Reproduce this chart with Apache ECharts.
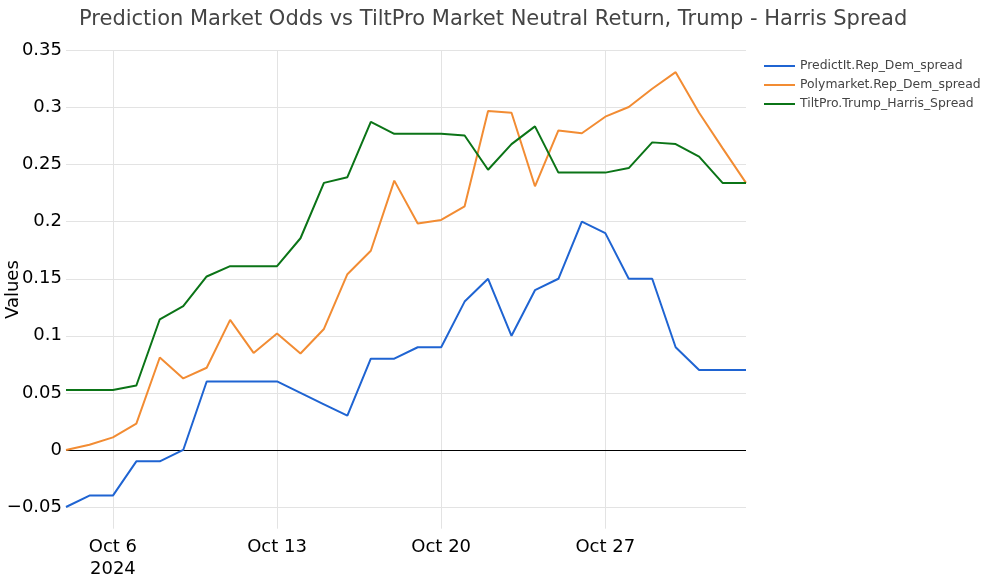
<!DOCTYPE html>
<html>
<head>
<meta charset="utf-8">
<style>
  html, body { margin: 0; padding: 0; background: #fff; }
  #chart { width: 985px; height: 579px; }
</style>
<script src="https://cdn.jsdelivr.net/npm/echarts@6/dist/echarts.min.js"></script>
</head>
<body>
<div id="chart"></div>
<script>
var dom = document.getElementById("chart");
var myChart = echarts.init(dom);

// dates Oct 4 .. Nov 2, 2024
var dates = [
    'Oct 4', 'Oct 5', 'Oct 6', 'Oct 7', 'Oct 8', 'Oct 9', 'Oct 10', 'Oct 11', 'Oct 12', 'Oct 13',
    'Oct 14', 'Oct 15', 'Oct 16', 'Oct 17', 'Oct 18', 'Oct 19', 'Oct 20', 'Oct 21', 'Oct 22', 'Oct 23',
    'Oct 24', 'Oct 25', 'Oct 26', 'Oct 27', 'Oct 28', 'Oct 29', 'Oct 30', 'Oct 31', 'Nov 1', 'Nov 2'
];
var tickDates = ['Oct 6', 'Oct 13', 'Oct 20', 'Oct 27'];

var predictIt = [
    -0.05, -0.04, -0.04, -0.01, -0.01, 0, 0.06, 0.06, 0.06, 0.06,
    0.05, 0.04, 0.03, 0.08, 0.08, 0.09, 0.09, 0.13, 0.15, 0.10,
    0.14, 0.15, 0.20, 0.19, 0.15, 0.15, 0.09, 0.07, 0.07, 0.07
];
var polymarket = [
    0, 0.0045, 0.011, 0.023, 0.081, 0.0627, 0.072, 0.114, 0.085, 0.102,
    0.0845, 0.106, 0.154, 0.1745, 0.236, 0.1985, 0.2015, 0.2135, 0.297, 0.2955,
    0.231, 0.280, 0.2775, 0.292, 0.3005, 0.3165, 0.331, 0.2955, 0.2645, 0.234
];
var tiltPro = [
    0.0525, 0.0525, 0.0525, 0.0565, 0.1145, 0.126, 0.152, 0.161, 0.161, 0.161,
    0.1855, 0.234, 0.239, 0.2875, 0.277, 0.277, 0.277, 0.2755, 0.2455, 0.268,
    0.2835, 0.243, 0.243, 0.243, 0.247, 0.2695, 0.268, 0.257, 0.234, 0.234
];

var seriesNames = ['PredictIt.Rep_Dem_spread', 'Polymarket.Rep_Dem_spread', 'TiltPro.Trump_Harris_Spread'];
var colors = ['#1f64d2', '#f28c33', '#0b7417'];

var font = 'DejaVu Sans, Verdana, sans-serif';

function isTick(i) {
    return tickDates.indexOf(dates[i]) >= 0;
}

function lineSeries(name, data, color, withZero) {
    var s = {
        name: name,
        type: 'line',
        data: data,
        showSymbol: false,
        symbol: 'none',
        lineStyle: { width: 2, color: color },
        itemStyle: { color: color },
        emphasis: { disabled: true },
        z: 3
    };
    if (withZero) {
        s.markLine = {
            silent: true,
            symbol: 'none',
            label: { show: false },
            lineStyle: { color: '#000', width: 1, type: 'solid' },
            data: [{ yAxis: 0 }],
            z: 2
        };
    }
    return s;
}

var option = {
    backgroundColor: '#fff',
    animation: false,
    color: colors,
    title: {
        text: 'Prediction Market Odds vs TiltPro Market Neutral Return, Trump - Harris Spread',
        left: 74,
        top: 4,
        textStyle: { fontFamily: font, fontSize: 21, fontWeight: 'normal', color: '#444' }
    },
    legend: {
        orient: 'vertical',
        left: 759,
        top: 55,
        itemWidth: 31,
        itemHeight: 2,
        itemGap: 7,
        icon: 'rect',
        textStyle: { fontFamily: font, fontSize: 12.4, color: '#444' },
        data: seriesNames
    },
    grid: {
        left: 66,
        right: 239,
        top: 50.5,
        bottom: 50.3,
        containLabel: false,
        outerBoundsMode: 'none'
    },
    xAxis: {
        type: 'category',
        data: dates,
        boundaryGap: false,
        axisLine: { show: false },
        axisTick: { show: false },
        axisLabel: {
            interval: function (i) { return isTick(i); },
            fontFamily: font,
            fontSize: 18,
            color: '#000',
            margin: 8,
            lineHeight: 22,
            formatter: function (v) {
                return v === 'Oct 6' ? 'Oct 6\n2024' : v;
            }
        },
        splitLine: {
            show: true,
            interval: function (i) { return isTick(i); },
            lineStyle: { color: '#e3e3e3', width: 1 }
        }
    },
    yAxis: {
        type: 'value',
        min: -0.069,
        max: 0.35,
        splitNumber: 8,
        name: 'Values',
        nameLocation: 'middle',
        nameGap: 44,
        nameMoveOverlap: false,
        nameTextStyle: { fontFamily: font, fontSize: 18, color: '#000' },
        axisLine: { show: false },
        axisTick: { show: false },
        axisLabel: {
            showMinLabel: false,
            fontFamily: font,
            fontSize: 18,
            color: '#000',
            margin: 4,
            formatter: function (v) {
                if (Math.abs(v) < 1e-9) return '0';
                var s = String(Math.round(v * 1000) / 1000);
                return s.replace('-', '\u2212');
            }
        },
        splitLine: { show: true, showMinLine: false, lineStyle: { color: '#e3e3e3', width: 1 } }
    },
    series: [
        lineSeries(seriesNames[0], predictIt, colors[0], true),
        lineSeries(seriesNames[1], polymarket, colors[1], false),
        lineSeries(seriesNames[2], tiltPro, colors[2], false)
    ]
};

myChart.setOption(option);
</script>
</body>
</html>
